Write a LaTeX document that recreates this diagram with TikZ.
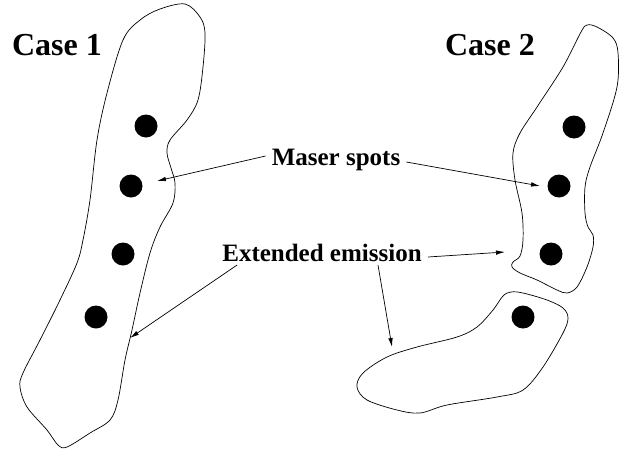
\documentclass[tikz,border=0pt]{standalone}
\usepackage{fontspec}
\setmainfont{Liberation Serif}
\usetikzlibrary{arrows.meta}
\begin{document}
\begin{tikzpicture}[x=1pt,y=-1pt,
  blob/.style={draw=black,line width=0.7pt},
  spot/.style={circle,fill=black,minimum size=23pt,inner sep=0pt},
  casetext/.style={font=\fontsize{32}{38}\selectfont\bfseries,inner sep=0pt},
  labeltext/.style={font=\fontsize{25}{30}\selectfont\bfseries,inner sep=6pt},
  pointer/.style={draw=black,line width=0.7pt,-{Latex[length=9pt,width=4.5pt]}}]
\useasboundingbox (0,0) rectangle (623,450);
% left blob
\draw[blob] plot[smooth cycle,tension=0.55] coordinates {
 (185,4) (200,17) (205,33) (203,67) (198,100) (187,120) (170,140) (167,153)
 (171,168) (175,183) (173,203) (160,227) (150,253) (140,293) (132,330)
 (125,360) (118,400) (110,420) (90,433) (67,447) (58,445) (47,430) (27,407)
 (20,387) (23,373) (40,340) (60,300) (77,263) (83,240) (90,200) (97,140)
 (107,93) (123,40) (140,20) (160,9)};
% right upper blob
\draw[blob] plot[smooth cycle,tension=0.55] coordinates {
 (587,25) (597,27) (613,38) (618,53) (617,87) (603,133) (590,167) (585,187)
 (585,213) (588,227) (593,235) (593,247) (587,267) (577,287) (567,293)
 (557,290) (537,280) (520,273) (512,267) (513,262) (520,256) (523,240)
 (522,213) (515,180) (513,153) (520,133) (537,107) (563,67) (581,32)};
% right lower blob
\draw[blob] plot[smooth cycle,tension=0.55] coordinates {
 (511,292) (523,293) (547,300) (563,308) (568,318) (563,333) (543,367)
 (523,390) (497,397) (447,405) (420,413) (397,410) (367,400) (357,387)
 (363,373) (387,357) (417,347) (457,337) (477,327) (493,310) (503,296)};
% spots
\node[spot] (l1) at (146,126) {};
\node[spot] (l2) at (131,186) {};
\node[spot] (l3) at (123,254) {};
\node[spot] (l4) at (96,317) {};
\node[spot] (r1) at (574,127) {};
\node[spot] (r2) at (559,186) {};
\node[spot] (r3) at (551,254) {};
\node[spot] (r4) at (523,317) {};
% titles
\node[casetext] (c1) at (57,45) {Case 1};
\node[casetext] (c2) at (490,45) {Case 2};
% labels
\node[labeltext] (ms) at (336,160) {Maser spots};
\node[labeltext] (ee) at (322,253) {Extended emission};
% arrow targets
\coordinate (msl) at (157,181);
\coordinate (msr) at (540,186);
\coordinate (eel) at (130,338);
\coordinate (eer) at (505,252);
\coordinate (eed) at (392,347);
\draw[pointer] ([yshift=4pt]ms.west) -- (msl);
\draw[pointer] ([yshift=-2pt]ms.east) -- (msr);
\draw[pointer] ([xshift=21pt,yshift=3pt]ee.south west) -- (eel);
\draw[pointer] ([yshift=-4pt]ee.east) -- (eer);
\draw[pointer] ([xshift=56pt,yshift=3pt]ee.south) -- (eed);
\end{tikzpicture}
\end{document}
